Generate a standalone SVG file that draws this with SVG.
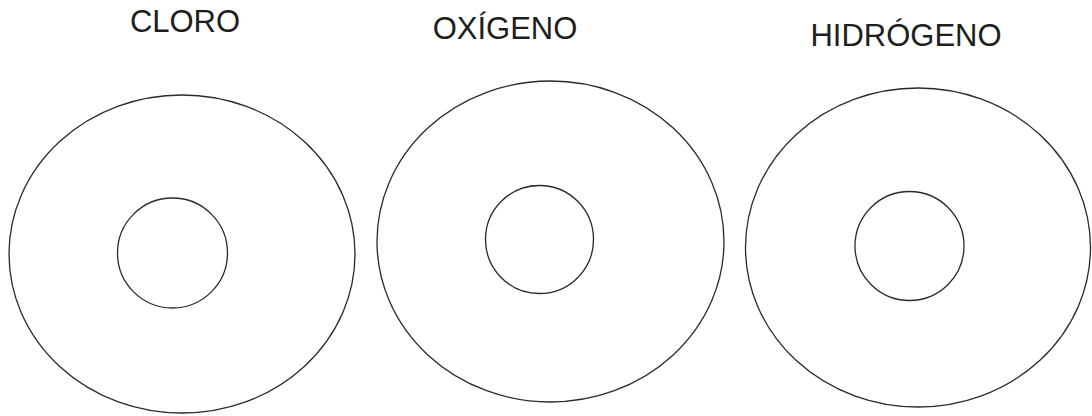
<svg xmlns="http://www.w3.org/2000/svg" width="1092" height="416" viewBox="0 0 1092 416">
  <style>
    .shell { fill: none; stroke: #2a2a2a; stroke-width: 1.3; }
    .label { font-family: "Liberation Sans", Arial, sans-serif; font-size: 31px; fill: #1e1e1e; text-anchor: middle; }
  </style>
  <rect width="1092" height="416" fill="#ffffff"/>
  <g id="cloro">
    <text class="label" x="185" y="32">CLORO</text>
    <ellipse class="shell" cx="182" cy="254" rx="173" ry="159"/>
    <circle class="shell" cx="172.5" cy="253" r="55"/>
  </g>
  <g id="oxigeno">
    <text class="label" x="505" y="39">OXÍGENO</text>
    <ellipse class="shell" cx="550.5" cy="241.5" rx="173.5" ry="160.5"/>
    <circle class="shell" cx="539.5" cy="239.5" r="54"/>
  </g>
  <g id="hidrogeno">
    <text class="label" x="906" y="46">HIDRÓGENO</text>
    <ellipse class="shell" cx="918" cy="247.5" rx="172.5" ry="159.5"/>
    <circle class="shell" cx="909.5" cy="246" r="54.5"/>
  </g>
  <g id="connectors"/>
</svg>
